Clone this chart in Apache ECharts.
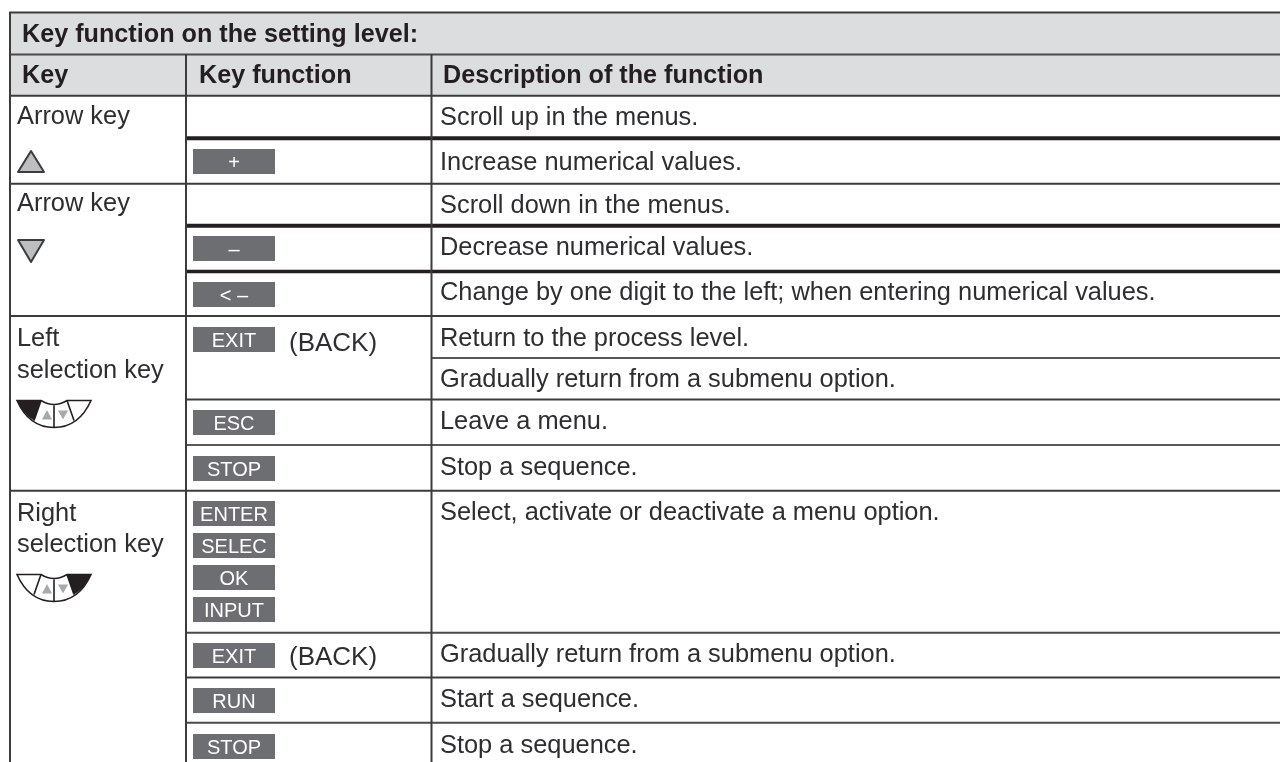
<!DOCTYPE html>
<html>
<head>
<meta charset="utf-8">
<style>
  html, body { margin: 0; padding: 0; background: #fff; }
  #table { width: 1280px; height: 762px; }
</style>
</head>
<body>
<div id="table"></div>
<script src="https://cdn.jsdelivr.net/npm/echarts@6/dist/echarts.min.js"></script>
<script>
// table content
const titleText = 'Key function on the setting level:';
const headers = ['Key', 'Key function', 'Description of the function'];
const keyNames = ['Arrow key', 'Arrow key', 'Left', 'selection key', 'Right', 'selection key'];
const keyCaps = ['+', '\u2013', '< \u2013', 'EXIT', 'ESC', 'STOP', 'ENTER', 'SELEC', 'OK', 'INPUT', 'EXIT', 'RUN', 'STOP'];
const capNotes = ['(BACK)', '(BACK)'];
const descriptions = [
  'Scroll up in the menus.',
  'Increase numerical values.',
  'Scroll down in the menus.',
  'Decrease numerical values.',
  'Change by one digit to the left; when entering numerical values.',
  'Return to the process level.',
  'Gradually return from a submenu option.',
  'Leave a menu.',
  'Stop a sequence.',
  'Select, activate or deactivate a menu option.',
  'Gradually return from a submenu option.',
  'Start a sequence.',
  'Stop a sequence.'
];

// layout, in axis units (the hidden axes run 1:1 with the page)
const colX = [10, 186, 431.5, 1280];
const headerX = [22, 199, 443];
const bandY = [[13, 54], [55, 96]];
// text rows are given by their baselines
const titleBase = 43.5;
const headerBase = 85;
const keyNameBase = [126, 213, 348, 380, 522.5, 553.5];
const descBase = [126.7, 171.7, 215, 257, 302.3, 347.7, 388.7, 430.7, 476.7, 522, 664, 709.3, 755.3];
const noteBase = [352.7, 666.7];
const capY = [149, 236, 282, 327, 410, 456, 501, 533, 565, 597, 643, 688, 734];
// x0, x1, y, width, colour
const hLines = [
  [9, 1280, 12.5, 2, '#3c3c3e'], [9, 1280, 54.5, 2, '#4a4a4c'], [9, 1280, 95.8, 2, '#3c3c3e'],
  [186, 1280, 138.3, 4, '#231f20'], [9, 1280, 183.7, 2, '#3c3c3e'], [186, 1280, 225.8, 4, '#231f20'],
  [186, 1280, 271.6, 3.5, '#231f20'], [9, 1280, 316, 2, '#3c3c3e'], [431, 1280, 358, 2, '#58595b'],
  [186, 1280, 399.6, 2, '#3c3c3e'], [186, 1280, 445, 2, '#58595b'], [9, 1280, 490.7, 2, '#3c3c3e'],
  [186, 1280, 632.7, 2, '#4a4a4c'], [186, 1280, 677.5, 2, '#3c3c3e'], [186, 1280, 722.8, 2, '#4a4a4c']
];
const vLines = [[10, 12], [186, 54], [431.5, 54]];

const FONT = '"Liberation Sans", Arial, sans-serif';
const LINE = '#231f20';
const INK = '#2e2e30';
const CAP = '#6d6e71';
const BAND = '#dcddde';
const GREY = '#a7a9ac';
const BODY_SIZE = 25.4;
const HEAD_SIZE = 25.2;

// y is a baseline; zrender only offers middle, so shift by the font's mid offset
function textEl(api, x, base, str, size, color, weight, align) {
  const p = api.coord([x, base - size * 0.35]);
  return {
    type: 'text', x: p[0], y: p[1],
    style: { text: str, fill: color, font: (weight || 'normal') + ' ' + size + 'px ' + FONT, textAlign: align || 'left', textVerticalAlign: 'middle' }
  };
}

function bandItem(params, api) {
  const a = api.coord([colX[0], api.value(0)]);
  const b = api.coord([colX[3], api.value(1)]);
  return { type: 'rect', shape: { x: a[0], y: a[1], width: b[0] - a[0], height: b[1] - a[1] }, style: { fill: BAND } };
}

function hLineItem(params, api) {
  const a = api.coord([api.value(0), api.value(2)]);
  const b = api.coord([api.value(1), api.value(2)]);
  const l = hLines[params.dataIndex];
  return { type: 'line', shape: { x1: a[0], y1: a[1], x2: b[0], y2: b[1] }, style: { stroke: l[4], lineWidth: l[3] } };
}

function vLineItem(params, api) {
  const a = api.coord([api.value(0), api.value(1)]);
  const b = api.coord([api.value(0), 762]);
  return { type: 'line', shape: { x1: a[0], y1: a[1], x2: b[0], y2: b[1] }, style: { stroke: '#3c3c3e', lineWidth: 2 } };
}

function capItem(params, api) {
  const i = params.dataIndex;
  const a = api.coord([193, capY[i]]);
  const b = api.coord([275, capY[i] + 25]);
  return {
    type: 'group',
    children: [
      { type: 'rect', shape: { x: a[0], y: a[1], width: b[0] - a[0], height: b[1] - a[1] }, style: { fill: CAP } },
      textEl(api, 234, capY[i] + 21, keyCaps[i], 20, '#fff', 'normal', 'center')
    ]
  };
}

// the little 4-key pad, local coordinates from its top left corner
const padOutline = 'M0,0 L24,0 Q37,8 50,0 L74,0 Q62,27 37,27 Q12,27 0,0 Z M24,0 L17,20 M50,0 L57,20 M37,5 L37,27';
const padLeft = 'M0,0 L24,0 L17,20 Q6,14 0,0 Z';
const padRight = 'M74,0 L50,0 L57,20 Q68,14 74,0 Z';
const padUp = 'M25,19 L30,9.5 L35,19 Z';
const padDown = 'M41,10 L51,10 L46,19 Z';

function iconItem(params, api) {
  const kind = params.dataIndex;
  const p = api.coord([api.value(0), api.value(1)]);
  if (kind < 2) {
    const d = kind === 0 ? 'M14,1 L27,22 L1,22 Z' : 'M1,1 L27,1 L14,23 Z';
    return {
      type: 'path', x: p[0], y: p[1], shape: { pathData: d },
      style: { fill: '#bcbec0', stroke: '#3c3c3e', lineWidth: 2, lineJoin: 'round' }
    };
  }
  const common = { x: p[0], y: p[1] };
  return {
    type: 'group',
    children: [
      Object.assign({ type: 'path', shape: { pathData: padOutline }, style: { fill: '#fff', stroke: LINE, lineWidth: 1.6 } }, common),
      Object.assign({ type: 'path', shape: { pathData: kind === 2 ? padLeft : padRight }, style: { fill: LINE } }, common),
      Object.assign({ type: 'path', shape: { pathData: padUp }, style: { fill: GREY } }, common),
      Object.assign({ type: 'path', shape: { pathData: padDown }, style: { fill: GREY } }, common)
    ]
  };
}

function textItem(params, api) {
  return {
    type: 'group',
    children: [textEl(api, headerX[0], titleBase, titleText, HEAD_SIZE, LINE, 'bold')]
      .concat(headers.map((t, i) => textEl(api, headerX[i], headerBase, t, HEAD_SIZE, LINE, 'bold')))
      .concat(keyNames.map((t, i) => textEl(api, 17, keyNameBase[i], t, BODY_SIZE, INK)))
      .concat(descriptions.map((t, i) => textEl(api, 440, descBase[i], t, BODY_SIZE, INK)))
      .concat(capNotes.map((t, i) => textEl(api, 289, noteBase[i], t, 26, INK)))
  };
}

const myChart = echarts.init(document.getElementById('table'));
myChart.setOption({
  animation: false,
  backgroundColor: '#fff',
  grid: { left: 0, right: 0, top: 0, bottom: 0 },
  xAxis: { type: 'value', min: 0, max: 1280, show: false },
  yAxis: { type: 'value', min: 0, max: 762, inverse: true, show: false },
  series: [
    { type: 'custom', silent: true, clip: false, data: bandY, renderItem: bandItem },
    { type: 'custom', silent: true, clip: false, data: hLines.map(l => l.slice(0, 3)), renderItem: hLineItem },
    { type: 'custom', silent: true, clip: false, data: vLines, renderItem: vLineItem },
    { type: 'custom', silent: true, clip: false, data: capY.map(y => [193, y]), renderItem: capItem },
    { type: 'custom', silent: true, clip: false, data: [[17, 150], [17, 239], [17, 400.5], [17, 574.5]], renderItem: iconItem },
    { type: 'custom', silent: true, clip: false, data: [[0, 0]], renderItem: textItem }
  ]
});
</script>
</body>
</html>
